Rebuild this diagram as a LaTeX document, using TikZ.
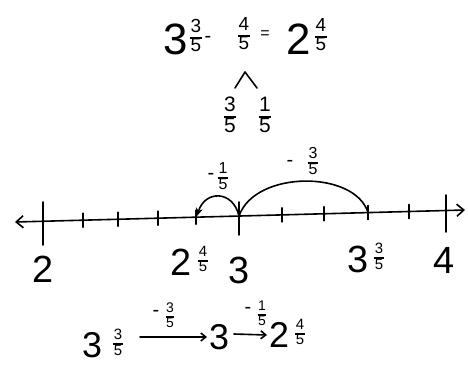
\documentclass[tikz,border=0pt]{standalone}
\usepackage{fontspec}
\setmainfont{Liberation Sans}
\usetikzlibrary{arrows.meta}
\newcommand\fr[3]{{\fontsize{#1}{#1}\selectfont\setlength\tabcolsep{0.6pt}\setlength\arrayrulewidth{1.3pt}\renewcommand\arraystretch{0.85}\begin{tabular}{c}#2\\\hline #3\end{tabular}}}
\tikzset{
  every node/.style={inner sep=0pt, outer sep=0pt},
  bigA/.style={font=\fontsize{44}{44}\selectfont},
  bigB/.style={font=\fontsize{38}{38}\selectfont},
  bigC/.style={font=\fontsize{36}{36}\selectfont},
  sym/.style={font=\fontsize{20}{20}\selectfont},
  pen/.style={line width=1.6bp, line cap=round, line join=round},
  barbs/.style={{Straight Barb[length=7bp,width=12bp,line width=1.6bp]}-{Straight Barb[length=7bp,width=12bp,line width=1.6bp]}},
  smallarr/.style={-{Stealth[length=8bp,width=7bp]}},
  botarr/.style={-{Straight Barb[length=5bp,width=8bp,line width=1.6bp]}}
}
\begin{document}
\begin{tikzpicture}[x=1bp,y=-1bp]
\useasboundingbox (0,0) rectangle (468,364);
% top equation
\node[bigA] (t3) at (176,39) {3};
\node (tf1) at (196,38) {\fr{19}{3}{5}};
\node[sym] (tmin) at (208,39) {-};
\node (tf2) at (244,36) {\fr{19}{4}{5}};
\node[font=\fontsize{16}{16}\selectfont] (teq) at (265,35) {=};
\node[bigA] (t2) at (299,39) {2};
\node (tf3) at (321,37) {\fr{19}{4}{5}};
% split
\coordinate (cl) at (235,88);
\coordinate (ct) at (245,72);
\coordinate (cr) at (257,88);
\draw[pen] (cl) -- (ct) -- (cr);
\node (sf1) at (230,117) {\fr{21}{3}{5}};
\node (sf2) at (265,117) {\fr{21}{1}{5}};
% number line
\coordinate (L) at (15,222);
\coordinate (R) at (465,210);
\draw[pen,barbs] (L) -- (R);
\foreach \x in {83,118,158,196,282,324,368,409}
  \draw[pen] (\x,{222-(\x-15)*12/450-7}) -- (\x,{222-(\x-15)*12/450+7});
\draw[pen] (43,202) -- (43,245);
\draw[pen] (239,202) -- (239,235);
\draw[pen] (446,195) -- (446,232);
\coordinate (p3) at (239,216);
\coordinate (p245) at (197,216);
\coordinate (p335) at (368,212.6);
\draw[pen] (p3) .. controls (255,170) and (355,170) .. (p335);
\draw[pen,smallarr] (p3) .. controls (233,190) and (205,190) .. (p245);
\node[sym] (m1) at (211,176) {-};
\node (m1f) at (223,178) {\fr{16}{1}{5}};
\node[sym] (m3) at (290,163) {-};
\node (m3f) at (313,163) {\fr{16}{3}{5}};
% number labels
\node[bigB] (n2) at (43,269) {2};
\node[bigB] (n245w) at (181,262) {2};
\node (n245f) at (203,261) {\fr{15}{4}{5}};
\node[bigB] (n3) at (239,270) {3};
\node[bigB] (n335w) at (358,259) {3};
\node (n335f) at (379,258) {\fr{15}{3}{5}};
\node[bigB] (n4) at (444,260) {4};
% bottom
\node[bigC] (b3) at (92,345) {3};
\node (bf1) at (118,344) {\fr{15}{3}{5}};
\node[bigC] (b3b) at (219,337) {3};
\node[bigC] (b2) at (279,335) {2};
\node (bf2) at (300,334) {\fr{15}{4}{5}};
\coordinate (a1s) at (140,337);
\coordinate (a2s) at (234,334);
\draw[pen,botarr] (a1s) -- ([xshift=-2]b3b.west);
\draw[pen,botarr] (a2s) -- ([xshift=-2]b2.west);
\node[sym] (bl1m) at (156,313) {-};
\node (bl1f) at (170,317) {\fr{14}{3}{5}};
\node[sym] (bl2m) at (248,310) {-};
\node (bl2f) at (262,315) {\fr{14}{1}{5}};
\end{tikzpicture}
\end{document}
